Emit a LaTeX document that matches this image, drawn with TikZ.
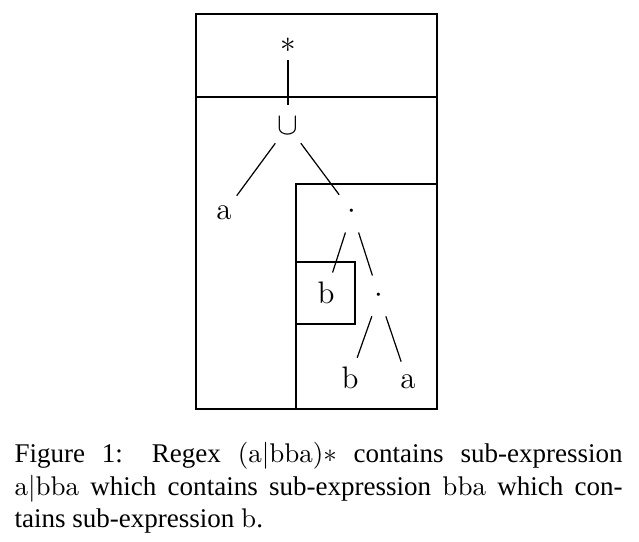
\documentclass[tikz,border=0pt]{standalone}
\usepackage{fix-cm}
\usepackage{fontspec}
\newfontfamily\capfont{Liberation Serif}
\newcommand{\rx}[1]{$\mathrm{#1}$}
\tikzset{
  sym/.style={circle, inner sep=0pt, minimum size=15.5pt, font=\fontsize{11.5}{14}\selectfont},
  frame/.style={line width=0.55pt},
  branch/.style={line width=0.45pt}
}

\begin{document}
\begin{tikzpicture}[x=0.37pt, y=-0.37pt]
  \useasboundingbox (0,0) rectangle (639,541);
  % Nested sub-expression boxes
  \draw[frame] (196,14) rectangle (437,409);
  \draw[frame] (196,97) -- (437,97);
  \draw[frame] (296,184) rectangle (437,409);
  \draw[frame] (296,262) rectangle (355,324);
  % Syntax tree
  \node[sym, minimum size=11pt] (star) at (288,45) {$\ast$};
  \node[sym] (union) at (288,126) {$\cup$};
  \node[sym] (a1) at (224,213) {$\mathrm{a}$};
  \node[sym] (cat1) at (352,212) {$\cdot$};
  \node[sym] (b1) at (326,293) {$\mathrm{b}$};
  \node[sym] (cat2) at (379,296) {$\cdot$};
  \node[sym] (b2) at (350,378) {$\mathrm{b}$};
  \node[sym] (a2) at (408,382) {$\mathrm{a}$};
  \draw[branch] (star) -- (union);
  \draw[branch] (union) -- (a1);
  \draw[branch] (union) -- (cat1);
  \draw[branch] (cat1) -- (b1);
  \draw[branch] (cat1) -- (cat2);
  \draw[branch] (cat2) -- (b2);
  \draw[branch] (cat2) -- (a2);
  % Caption
  \node[anchor=north west, inner sep=0pt, text width=225pt, align=justify,
    font=\capfont\fontsize{10}{12.1}\selectfont] (caption) at (14,441.5)
    {Figure 1: Regex \rx{(a|bba)*} contains sub-expression\linebreak
     \rx{a|bba} which contains sub-expression \rx{bba} which con-\linebreak
     tains sub-expression \rx{b}.};
\end{tikzpicture}
\end{document}
